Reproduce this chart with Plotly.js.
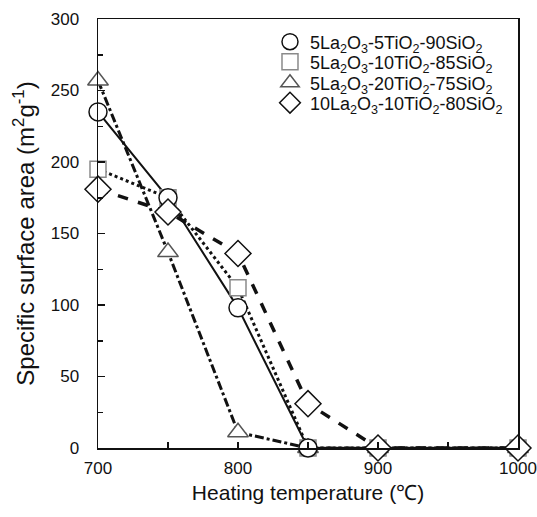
<!DOCTYPE html>
<html>
<head>
<meta charset="utf-8">
<script src="https://cdn.plot.ly/plotly-3.0.1.min.js"></script>
<style>html,body{margin:0;padding:0;background:#fff;}#chart{width:537px;height:517px;}</style>
</head>
<body>
<div id="chart"></div>
<script>
const temperatures = [700, 750, 800, 850, 900, 1000];
const seriesNames = [
  '5La<sub>2</sub>O<sub>3</sub>-5TiO<sub>2</sub>-90SiO<sub>2</sub>',
  '5La<sub>2</sub>O<sub>3</sub>-10TiO<sub>2</sub>-85SiO<sub>2</sub>',
  '5La<sub>2</sub>O<sub>3</sub>-20TiO<sub>2</sub>-75SiO<sub>2</sub>',
  '10La<sub>2</sub>O<sub>3</sub>-10TiO<sub>2</sub>-80SiO<sub>2</sub>'
];
const circleValues   = [235, 175, 98, 0, 0, 0];
const squareValues   = [195, 175, 112, 0, 0, 0];
const triangleValues = [257, 137, 11, 0, 0, 0];
const diamondValues  = [181, 165, 136, 31, 0, 0];
const xTickVals = [700, 750, 800, 850, 900, 950, 1000];
const xTickText = ['700', '', '800', '', '900', '', '1000'];
const yTickVals = [0, 50, 100, 150, 200, 250, 300];
const yTickText = ['0', '50', '100', '150', '200', '250', '300'];

const styles = [
  {vals: circleValues,   name: seriesNames[0], symbol: 'circle',      mcolor: '#111',    dash: 'solid',   lw: 2,   size: 18, order: 3, legend: 'legend'},
  {vals: squareValues,   name: seriesNames[1], symbol: 'square',      mcolor: '#8a8a8a', dash: 'dot',     lw: 3,   size: 16, order: 2, legend: 'legend2'},
  {vals: triangleValues, name: seriesNames[2], symbol: 'triangle-up', mcolor: '#555',    dash: 'dashdot', lw: 3,   size: 18, order: 1, legend: 'legend3'},
  {vals: diamondValues,  name: seriesNames[3], symbol: 'diamond',     mcolor: '#111',    dash: 'dash',    lw: 3.5, size: 20, order: 4, legend: 'legend4'}
];

const lineTraces = styles.map(s => ({
  x: temperatures, y: s.vals, type: 'scatter', mode: 'lines',
  line: {color: '#111', width: s.lw, dash: s.dash},
  showlegend: false, hoverinfo: 'skip', cliponaxis: false
}));
const markerTraces = styles.slice().sort((a,b)=>a.order-b.order).map(s => ({
  x: temperatures, y: s.vals, type: 'scatter', mode: 'markers', name: s.name,
  legend: s.legend, cliponaxis: false,
  marker: {symbol: s.symbol, size: s.size, color: '#fff', line: {color: s.mcolor, width: 1.5}}
}));

function legendAt(py) {
  return {x: 0.4095, y: 1 - (py - 19) / 429, xanchor: 'left', yanchor: 'middle',
          bgcolor: 'rgba(0,0,0,0)', font: {size: 18}, itemwidth: 30};
}

const layout = {
  width: 537, height: 517,
  margin: {l: 98, r: 19, t: 19, b: 69},
  paper_bgcolor: '#fff', plot_bgcolor: '#fff',
  font: {family: 'Liberation Sans, Arial, sans-serif', color: '#111', size: 17},
  showlegend: true,
  legend: legendAt(42),
  legend2: legendAt(62),
  legend3: legendAt(83),
  legend4: legendAt(103),
  xaxis: {
    range: [700, 1000], tickvals: xTickVals, ticktext: xTickText,
    ticks: 'inside', ticklen: 6, tickwidth: 1.5, tickcolor: '#111',
    showline: true, linecolor: '#111', linewidth: 1.5, mirror: true,
    showgrid: false, zeroline: false, tickfont: {size: 17}, ticklabelstandoff: 4,
    title: {text: 'Heating temperature (℃)', font: {size: 21}, standoff: 8}
  },
  yaxis: {
    range: [0, 300], tickvals: yTickVals, ticktext: yTickText,
    ticks: 'inside', ticklen: 7, tickwidth: 1.5, tickcolor: '#111',
    minor: {tickvals: [25, 75, 125, 175, 225, 275], ticks: 'inside', ticklen: 5, tickwidth: 1.5, tickcolor: '#111'},
    showline: true, linecolor: '#111', linewidth: 1.5, mirror: true,
    showgrid: false, zeroline: false, tickfont: {size: 17}, ticklabelstandoff: 14,
    title: {text: 'Specific surface area (m<sup>2</sup>g<sup>-1</sup>)', font: {size: 24}, standoff: 9}
  }
};

Plotly.newPlot('chart', lineTraces.concat(markerTraces), layout, {displayModeBar: false, staticPlot: true});
</script>
</body>
</html>
